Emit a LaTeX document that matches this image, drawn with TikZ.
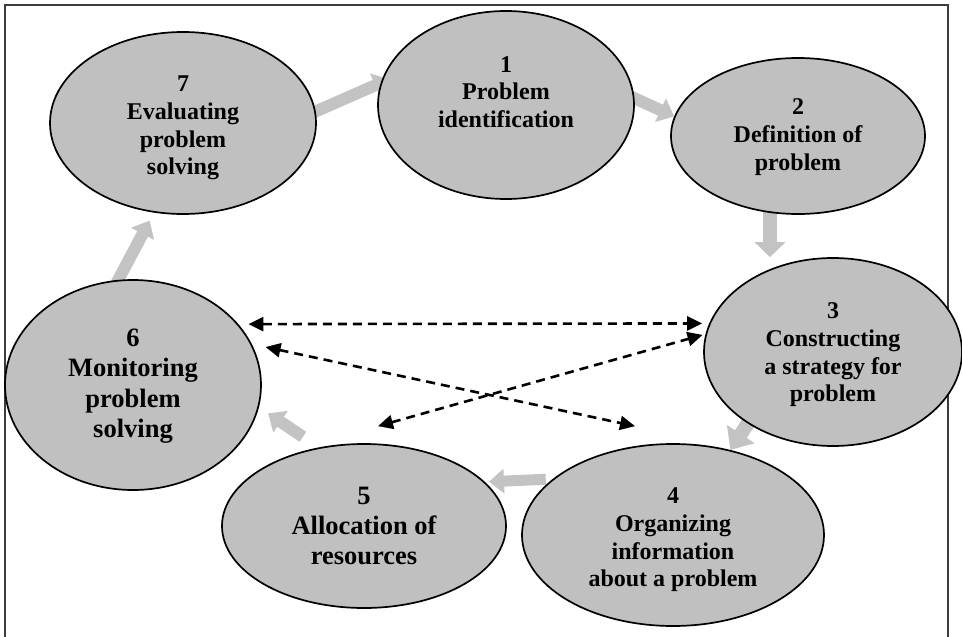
\documentclass[tikz,border=0pt]{standalone}
\usepackage{fontspec}
\setmainfont{Liberation Serif}
\usetikzlibrary{arrows.meta,shapes.geometric,backgrounds,calc}
\definecolor{ellgray}{RGB}{192,192,192}
\definecolor{flowgray}{RGB}{195,195,195}
\definecolor{framegray}{RGB}{60,60,60}
\tikzset{
  stage/.style={ellipse, draw=black, line width=1.7pt, fill=ellgray, inner sep=0pt},
  lbl/.style={align=center, inner sep=0pt, font=\bfseries\fontsize{24}{27.7}\selectfont},
  lblbig/.style={align=center, inner sep=0pt, font=\bfseries\fontsize{26.5}{30.3}\selectfont},
  flow/.style={draw=flowgray, line width=12pt, -{Triangle[length=15pt,width=25pt]}},
  link/.style={draw=black, line width=2.6pt, dash pattern=on 9pt off 6pt,
    {Triangle[length=15pt,width=14pt]}-{Triangle[length=15pt,width=14pt]}},
  frameline/.style={draw=framegray, line width=1.4pt}
}
\begin{document}
\begin{tikzpicture}[x=1pt,y=-1pt]
\useasboundingbox (0,0) rectangle (962,637);

% the seven stages
\node[stage, minimum width=266pt, minimum height=182pt] (e7) at (183,123) {};
\node[stage, minimum width=256pt, minimum height=188pt] (e1) at (506,105) {};
\node[stage, minimum width=254pt, minimum height=156pt] (e2) at (798,136) {};
\node[stage, minimum width=258pt, minimum height=188pt] (e3) at (833,352) {};
\node[stage, minimum width=302pt, minimum height=182pt] (e4) at (673,535) {};
\node[stage, minimum width=284pt, minimum height=164pt] (e5) at (364,526) {};
\node[stage, minimum width=256pt, minimum height=210pt] (e6) at (133,385) {};

% stage captions
\node[lbl] (t7) at (183,128) {7\\Evaluating\\problem\\solving};
\node[lbl] (t1) at (506,92) {1\\Problem\\identification};
\node[lbl] (t2) at (798,137) {2\\Definition of\\problem};
\node[lbl] (t3) at (833,355) {3\\Constructing\\a strategy for\\problem};
\node[lbl] (t4) at (673,540) {4\\Organizing\\information\\about a problem};
\node[lblbig] (t5) at (364,526) {5\\Allocation of\\resources};
\node[lblbig] (t6) at (133,386) {6\\Monitoring\\problem\\solving};

\begin{pgfonlayer}{background}
  % open frame
  \draw[frameline] (5,637) -- (5,5) -- (948,5) -- (948,637);
  % cycle of block arrows
  \draw[flow, shorten <=-8pt, shorten >=-9pt] (e7.5) -- (e1.170);
  \draw[flow, shorten <=-8pt] (e1.3) -- (e2.171);
  \draw[flow, line width=14pt, -{Triangle[length=15pt,width=30pt]}, shorten <=-6pt]
    (e2.250) -- (e2.250 |- e3.north);
  \draw[flow, line width=14pt, -{Triangle[length=19pt,width=32pt]}, shorten <=-10pt]
    (e3.220) -- (e4.56);
  \draw[flow, line width=11pt, -{Triangle[length=15pt,width=24pt]}, shorten <=7pt, shorten >=4pt]
    (e4.155) -- (e5.20);
  \draw[flow, shorten <=19pt, shorten >=11pt] (e5.120) -- (e6.-10);
  \draw[flow, shorten <=-4pt, shorten >=9pt] (e6.98) -- (e7.252);
\end{pgfonlayer}

% dashed two-way links
\draw[link, shorten <=10pt, shorten >=7pt] (e6.30) -- (e3.167);
\draw[link, shorten <=14pt] (e6.19) -- ($(e4.north)+(-38,-17)$);
\draw[link, shorten >=3pt] ($(e5.north)+(14,-17)$) -- (e3.172);
\end{tikzpicture}
\end{document}
